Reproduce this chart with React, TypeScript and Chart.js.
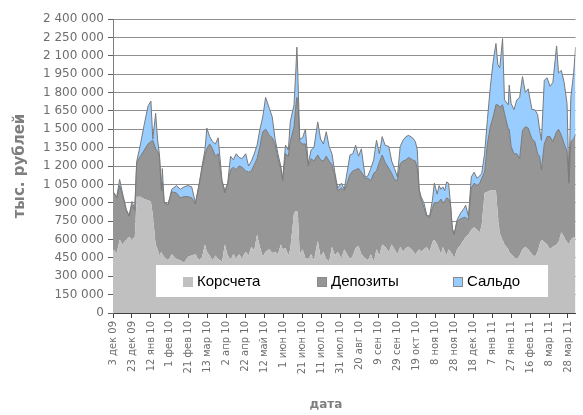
import { useEffect, useRef } from 'react';
import { Chart, registerables } from 'chart.js';

Chart.register(...registerables);

// day offsets from 3 Dec 2009
const days = [0,4,7,10,14,17,20,23,25,29,33,37,40,42,45,47,49,51,52,54,58,62,67,71,75,79,83,87,91,94,97,99,102,105,108,111,115,118,121,124,127,130,133,136,140,143,146,149,152,155,158,161,165,168,171,174,177,179,182,185,187,191,193,194,195,197,200,203,206,209,212,216,219,222,225,228,231,234,237,241,244,247,250,253,256,259,262,266,269,272,275,278,281,284,287,291,294,297,300,303,306,309,312,316,319,321,323,325,328,331,334,337,339,342,344,346,348,350,352,354,356,358,360,363,367,370,372,375,378,381,384,387,389,392,395,398,401,404,406,408,411,413,417,418,420,423,426,429,432,435,438,442,445,448,450,452,455,458,461,464,468,470,473,476,479,481,483,486,488];

const korscheta = [520000,490000,600000,560000,600000,620000,600000,620000,950000,950000,930000,920000,910000,800000,560000,520000,470000,500000,480000,460000,430000,480000,440000,430000,410000,460000,470000,480000,430000,460000,560000,500000,470000,430000,470000,440000,420000,560000,470000,440000,480000,450000,480000,450000,500000,470000,540000,510000,640000,540000,460000,500000,520000,490000,500000,480000,560000,520000,530000,470000,520000,820000,830000,830000,820000,480000,520000,450000,440000,480000,430000,590000,460000,500000,440000,420000,540000,470000,500000,450000,520000,480000,440000,470000,530000,550000,480000,450000,430000,480000,420000,520000,470000,560000,540000,500000,560000,520000,480000,540000,500000,530000,540000,510000,480000,500000,520000,500000,520000,540000,500000,580000,600000,560000,520000,480000,540000,500000,470000,520000,500000,480000,450000,520000,560000,600000,620000,640000,680000,700000,680000,660000,720000,980000,990000,1000000,1000000,1000000,800000,650000,600000,560000,520000,500000,480000,460000,440000,470000,520000,540000,520000,480000,460000,500000,560000,600000,580000,560000,520000,540000,560000,580000,660000,620000,580000,560000,600000,620000,600000];

const deposits = [460000,450000,440000,400000,240000,170000,280000,220000,280000,330000,400000,460000,490000,610000,780000,800000,810000,500000,590000,440000,450000,510000,540000,510000,540000,490000,470000,410000,620000,720000,730000,840000,910000,910000,810000,860000,650000,420000,580000,730000,710000,720000,720000,740000,660000,680000,620000,700000,620000,820000,1020000,1000000,930000,940000,880000,780000,620000,560000,770000,810000,880000,700000,870000,930000,920000,920000,860000,930000,760000,780000,810000,700000,790000,740000,840000,820000,670000,650000,500000,570000,480000,580000,690000,690000,640000,630000,670000,650000,670000,600000,720000,640000,760000,730000,690000,680000,580000,570000,600000,680000,740000,720000,730000,740000,760000,680000,480000,430000,340000,250000,280000,280000,300000,340000,390000,450000,360000,410000,470000,410000,390000,200000,190000,230000,210000,180000,160000,120000,340000,360000,360000,400000,380000,170000,390000,520000,600000,700000,900000,1030000,1100000,1070000,980000,1000000,880000,840000,860000,790000,970000,980000,990000,940000,940000,800000,720000,570000,800000,880000,920000,860000,920000,920000,790000,760000,740000,500000,800000,800000,860000];

const saldo = [10000,10000,50000,20000,5000,5000,30000,10000,5000,100000,210000,310000,330000,10000,290000,100000,10000,20000,110000,5000,5000,20000,60000,70000,80000,90000,90000,10000,10000,20000,40000,170000,60000,60000,100000,130000,10000,20000,10000,110000,60000,130000,70000,70000,140000,50000,80000,90000,110000,140000,120000,260000,220000,170000,40000,40000,20000,10000,70000,50000,160000,180000,300000,410000,210000,20000,50000,120000,20000,70000,110000,270000,170000,140000,200000,120000,90000,30000,20000,40000,10000,90000,160000,140000,200000,100000,190000,10000,20000,100000,110000,250000,70000,150000,140000,180000,100000,90000,30000,140000,170000,190000,180000,180000,160000,150000,10000,20000,40000,10000,10000,60000,160000,70000,130000,80000,130000,90000,130000,130000,10000,10000,5000,10000,50000,70000,100000,30000,90000,90000,60000,60000,40000,150000,200000,320000,450000,500000,330000,320000,540000,110000,200000,360000,350000,360000,440000,500000,440000,280000,320000,240000,260000,320000,220000,240000,520000,480000,410000,480000,700000,460000,530000,500000,390000,20000,360000,540000,710000];

const tickLabels = ['3 дек 09','23 дек 09','12 янв 10','1 фев 10','21 фев 10','13 мар 10','2 апр 10','22 апр 10','12 май 10','1 июн 10','21 июн 10','11 июл 10','31 июл 10','20 авг 10','9 сен 10','29 сен 10','19 окт 10','8 ноя 10','28 ноя 10','18 дек 10','7 янв 11','27 янв 11','16 фев 11','8 мар 11','28 мар 11'];

const seriesNames = ['Корсчета', 'Депозиты', 'Сальдо'];
const seriesFill = ['#c0c0c0', '#969696', '#99ccff'];
const seriesLine = ['rgba(0,0,0,0)', '#7a7a7a', '#7a7a7a'];
const yTitle = 'тыс. рублей';
const xTitle = 'дата';

const fmt = (v: number) => String(Math.round(v)).replace(/\B(?=(\d{3})+(?!\d))/g, ' ');

const overlay = {
  id: 'overlay',
  afterDraw(chart: any) {
    const { ctx, chartArea: ca } = chart;
    ctx.save();
    // legend
    const lx = ca.left + 43;
    const ly = ca.top + 246;
    ctx.fillStyle = '#ffffff';
    ctx.fillRect(lx, ly, 392, 32);
    const keyX = [lx + 27, lx + 161, lx + 297];
    ctx.font = '15px "Liberation Sans", Arial, sans-serif';
    ctx.textBaseline = 'middle';
    ctx.textAlign = 'left';
    for (let i = 0; i < 3; i++) {
      ctx.fillStyle = seriesFill[i];
      ctx.fillRect(keyX[i], ly + 12, 10, 10);
      if (i > 0) {
        ctx.strokeStyle = '#8a8a8a';
        ctx.lineWidth = 1;
        ctx.strokeRect(keyX[i] + 0.5, ly + 12.5, 9, 9);
      }
      ctx.fillStyle = '#000000';
      ctx.fillText(seriesNames[i], keyX[i] + 14, ly + 17);
    }
    // axis titles
    ctx.fillStyle = '#7f7f7f';
    ctx.textAlign = 'center';
    ctx.font = 'bold 15px "DejaVu Sans", sans-serif';
    ctx.translate(20, (ca.top + ca.bottom) / 2);
    ctx.rotate(-Math.PI / 2);
    ctx.fillText(yTitle, 0, 0);
    ctx.setTransform(1, 0, 0, 1, 0, 0);
    ctx.font = 'bold 12px "DejaVu Sans", sans-serif';
    ctx.fillText(xTitle, 326, 405);
    ctx.restore();
  },
};

export default function App() {
  const ref = useRef<HTMLCanvasElement | null>(null);
  useEffect(() => {
    if (!ref.current) return;
    const mk = (arr: number[]) => days.map((d, i) => ({ x: d, y: arr[i] }));
    const chart = new Chart(ref.current, {
      type: 'line',
      data: {
        datasets: [korscheta, deposits, saldo].map((arr, i) => ({
          label: seriesNames[i],
          data: mk(arr),
          backgroundColor: seriesFill[i],
          borderColor: seriesLine[i],
          borderWidth: i === 0 ? 0 : 1,
          pointRadius: 0,
          tension: 0,
          fill: i === 0 ? 'origin' : '-1',
        })),
      },
      options: {
        responsive: false,
        animation: false,
        events: [],
        layout: { padding: { left: 0, right: 1, top: 19, bottom: 0 } },
        plugins: { legend: { display: false }, tooltip: { enabled: false } },
        scales: {
          x: {
            type: 'linear',
            min: 0,
            max: 488,
            afterFit: (s: any) => { s.height = 102; },
            border: { display: true, color: '#404040' },
            grid: { drawOnChartArea: false, drawTicks: true, tickLength: 5, tickColor: '#404040' },
            ticks: {
              stepSize: 20,
              includeBounds: false,
              autoSkip: false,
              maxRotation: 90,
              minRotation: 90,
              padding: 3,
              color: '#6e6e6e',
              font: { family: '"DejaVu Sans", sans-serif', size: 10 },
              callback: (v: any) => tickLabels[Math.round(Number(v) / 20)] ?? '',
            },
          },
          y: {
            stacked: true,
            min: 0,
            max: 2400000,
            afterFit: (s: any) => { s.width = 113; },
            border: { display: true, color: '#808080' },
            grid: { color: '#8f8f8f', tickLength: 5, tickColor: '#606060' },
            ticks: {
              stepSize: 150000,
              padding: 4,
              color: '#6e6e6e',
              font: { family: '"DejaVu Sans", sans-serif', size: 12 },
              callback: (v: any) => fmt(Number(v)),
            },
          },
        },
      },
      plugins: [overlay],
    });
    return () => chart.destroy();
  }, []);
  return (
    <div style={{ position: 'fixed', left: 0, top: 0, width: 583, height: 415, background: '#fff' }}>
      <canvas ref={ref} width={583} height={415} style={{ display: 'block' }} />
    </div>
  );
}
